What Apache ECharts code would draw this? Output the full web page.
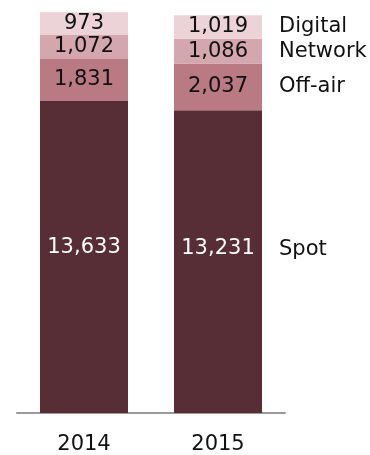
<!DOCTYPE html>
<html>
<head>
<meta charset="utf-8">
<script src="https://cdn.jsdelivr.net/npm/echarts@6/dist/echarts.min.js"></script>
<style>
html,body{margin:0;padding:0;background:#fff;}
#chart{width:370px;height:455px;}
</style>
</head>
<body>
<div id="chart"></div>
<script>
var categories = ['2014', '2015'];
var seriesNames = ['Spot', 'Off-air', 'Network', 'Digital'];
var spot = [13633, 13231];
var offAir = [1831, 2037];
var network = [1072, 1086];
var digital = [973, 1019];

var values = [spot, offAir, network, digital];
var colors = ['#582e36', '#b97a84', '#d4a7ae', '#ebd3d7'];
var FONT = 'DejaVu Sans';

function fmt(v) { return v.toLocaleString('en-US'); }

var series = values.map(function (arr, i) {
  return {
    name: seriesNames[i],
    type: 'bar',
    stack: 'total',
    barWidth: 88,
    itemStyle: { color: colors[i] },
    data: arr.map(function (v, j) {
      var item = { value: v };
      if (i === 0) {
        item.label = { offset: [0, j === 0 ? -9 : -13] };
      }
      return item;
    }),
    label: {
      show: true,
      position: 'inside',
      fontFamily: FONT,
      fontSize: 21,
      color: i === 0 ? '#ffffff' : '#111111',
      formatter: function (p) { return fmt(p.value); }
    }
  };
});

// Right-side series name labels next to the last bar, at each segment's middle
var last = categories.length - 1;
var cum = 0;
var nameData = values.map(function (arr, i) {
  var mid = cum + arr[last] / 2;
  cum += arr[last];
  return {
    value: [categories[last], mid],
    label: { offset: [0, i === 0 ? -12 : 0] },
    name: seriesNames[i]
  };
});
series.push({
  type: 'scatter',
  symbolSize: 0,
  silent: true,
  itemStyle: { opacity: 1 },
  data: nameData,
  label: {
    show: true,
    position: 'right',
    distance: 61,
    opacity: 1,
    fontFamily: FONT,
    fontSize: 21,
    color: '#111111',
    formatter: function (p) { return p.name; }
  },
  z: 10
});

var chart = echarts.init(document.getElementById('chart'), null, { renderer: 'canvas' });
chart.setOption({
  animation: false,
  grid: { left: 17, width: 268, top: 1, bottom: 40, containLabel: false },
  xAxis: {
    type: 'category',
    data: categories,
    axisTick: { show: false },
    axisLine: { lineStyle: { color: '#9a9a9a', width: 2 } },
    axisLabel: { fontFamily: FONT, fontSize: 21, color: '#111111', margin: 21 }
  },
  yAxis: {
    type: 'value',
    min: 0,
    max: 18000,
    show: false,
    splitLine: { show: false }
  },
  series: series
});
</script>
</body>
</html>
